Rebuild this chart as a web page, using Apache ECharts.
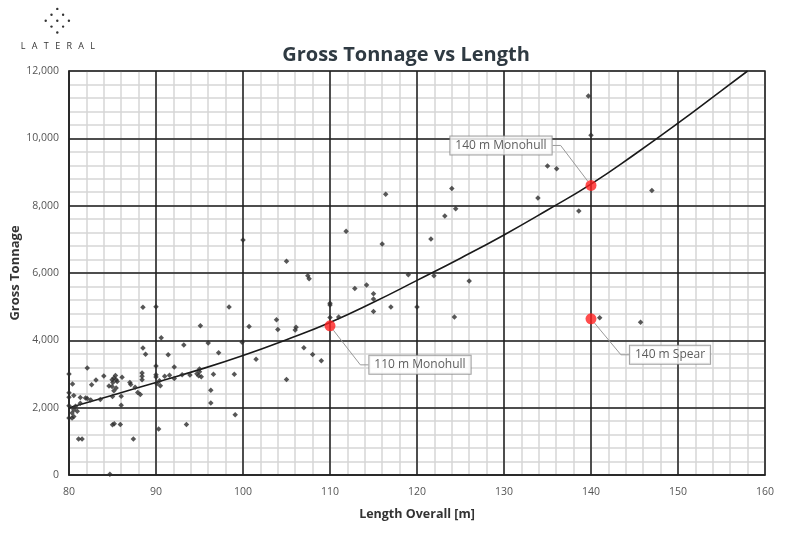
<!DOCTYPE html>
<html><head><meta charset="utf-8">
<script src="https://cdn.jsdelivr.net/npm/echarts@6/dist/echarts.min.js"></script>
<style>html,body{margin:0;padding:0;background:#fff}#c{width:800px;height:535px}</style>
</head><body><div id="c"></div>
<script>
// Fleet data: length overall [m] and gross tonnage
const fleetLength = [
  80.0,80.0,80.0,80.0,80.0,80.35,80.4,80.55,80.75,80.55,80.35,80.95,80.55,
  81.3,81.3,81.9,82.1,82.1,82.5,82.6,83.1,83.6,84.0,84.6,
  85.34,85.16,85.42,84.96,85.54,85.04,84.96,85.42,85.16,
  85.0,86.0,86.1,86.0,87.0,87.1,87.6,87.9,88.2,
  88.4,88.4,88.4,88.5,88.8,88.5,90.0,
  90.0,90.0,90.0,90.1,90.4,90.5,
  85.2,85.0,85.9,81.1,81.5,87.4,84.7,
  90.6,93.2,96.0,99.9,97.2,91.4,92.1,95.0,95.0,
  91.0,91.55,92.1,93.0,93.9,94.7,94.9,95.2,96.6,99.0,
  96.3,96.3,99.1,93.5,90.3,95.1,100.7,98.4,101.5,
  100.0,111.85,105.0,107.45,107.6,112.85,114.2,115.0,115.0,115.0,
  110.0,110.0,110.0,111.0,103.85,104.0,106.1,106.0,107.0,108.0,109.0,105.0,
  116.4,124.0,124.45,123.2,121.6,116.0,119.0,121.95,126.0,117.0,120.0,124.3,
  139.7,140.0,135.0,136.05,133.9,138.6,147.0,141.0,145.7
];
const fleetTonnage = [
  3000,2440,2310,2060,1690,1690,2700,2360,2040,1940,1840,1890,1740,
  2300,2130,2290,2270,3180,2230,2680,2820,2240,2940,2640,
  2956,2879,2829,2829,2778,2749,2630,2583,2502,
  2330,2340,2900,2070,2750,2690,2610,2450,2390,
  3030,2930,2830,3770,3590,4980,5000,
  3240,2980,2910,2710,2800,2650,
  1520,1490,1500,1070,1070,1070,20,
  4080,3860,3920,3940,3630,3570,3210,3150,3070,
  2930,2960,2870,2980,2970,3010,2950,2920,2990,2990,
  2520,2140,1790,1500,1370,4430,4410,4990,3440,
  6980,7240,6350,5920,5830,5540,5640,5380,5230,4860,
  5100,5050,4680,4690,4610,4320,4390,4310,3780,3580,3390,2840,
  8340,8510,7910,7690,7010,6860,5950,5920,5760,4990,4990,4690,
  11260,10090,9180,9100,8230,7840,8450,4670,4540
];
// Trend line
const trendLength  = [80,85,90,95,100,105,110,115,120,125,130,135,140,145,150,155,158];
const trendTonnage = [2000,2370,2750,3130,3550,4020,4530,5130,5780,6440,7130,7870,8640,9520,10450,11420,12000];
// Highlighted designs
const highlightLength  = [110,140,140];
const highlightTonnage = [4430,8600,4640];
const highlightNames   = ['110 m Monohull','140 m Monohull','140 m Spear'];
// Axis ranges
const xRange = [80,160], xStep = 10, xMinorStep = 2;
const yRange = [0,12000], yStep = 2000, yMinorStep = 400;

const FONT = 'Open Sans';
const labelOffsets = [[90,39],[-90,-40],[79,36]];

const logoDots = [];
[-1,0,1].forEach(u => [-1,0,1].forEach(v => {
  logoDots.push({type:'circle', shape:{cx:57.3+(u-v)*5.8, cy:20.7+(u+v)*5.9, r:1.2}, style:{fill:'#333'}});
}));
const logoLetters = 'LATERAL'.split('').map((ch,i) => ({
  type:'text', x:23+i*11.6, y:46, style:{text:ch, fill:'#333', font:'9px "Open Sans"', align:'center', verticalAlign:'middle'}
}));

const chart = echarts.init(document.getElementById('c'));
const minorAxisCommon = {
  type:'value', z:0, axisLine:{show:false, onZero:false}, axisTick:{show:false}, axisLabel:{show:false},
  splitLine:{show:true, lineStyle:{color:'#d6d6d6', width:1.5}}
};
chart.setOption({
  animation:false,
  backgroundColor:'#fff',
  title:{text:'Gross Tonnage vs Length', left:401, textAlign:'center', top:40,
    textStyle:{fontFamily:FONT, fontSize:20, fontWeight:'bold', color:'#2f3a42'}},
  grid:{left:69, right:35, top:71, bottom:60, show:true, borderColor:'#333', borderWidth:1.5,
    containLabel:false, outerBoundsMode:'none'},
  graphic: logoDots.concat(logoLetters),
  xAxis:[
    Object.assign({}, minorAxisCommon, {min:xRange[0], max:xRange[1], interval:xMinorStep, position:'bottom'}),
    {type:'value', z:1, min:xRange[0], max:xRange[1], interval:xStep, position:'bottom',
     axisLine:{show:true, onZero:false, lineStyle:{color:'#222', width:1.5}}, axisTick:{show:false},
     axisLabel:{color:'#555', fontSize:10.5, fontFamily:FONT, margin:12},
     splitLine:{show:true, lineStyle:{color:'#1e1e1e', width:1.5}},
     name:'Length Overall [m]', nameLocation:'middle', nameGap:33, nameMoveOverlap:false,
     nameTextStyle:{fontFamily:FONT, fontSize:12.5, fontWeight:'bold', color:'#333'}}
  ],
  yAxis:[
    Object.assign({}, minorAxisCommon, {min:yRange[0], max:yRange[1], interval:yMinorStep, position:'left'}),
    {type:'value', z:1, min:yRange[0], max:yRange[1], interval:yStep, position:'left',
     axisLine:{show:true, onZero:false, lineStyle:{color:'#222', width:1.5}}, axisTick:{show:false},
     axisLabel:{color:'#555', fontSize:10.5, fontFamily:FONT, margin:10,
       formatter: v => v.toLocaleString('en-US')},
     splitLine:{show:true, lineStyle:{color:'#1e1e1e', width:1.5}},
     name:'Gross Tonnage', nameLocation:'middle', nameGap:47, nameMoveOverlap:false,
     nameTextStyle:{fontFamily:FONT, fontSize:13, fontWeight:'bold', color:'#333'}}
  ],
  series:[
    {type:'line', xAxisIndex:1, yAxisIndex:1, z:3, smooth:true, symbol:'none', clip:true,
     lineStyle:{color:'#1a1a1a', width:1.6},
     data: trendLength.map((x,i)=>[x, trendTonnage[i]])},
    {type:'scatter', xAxisIndex:1, yAxisIndex:1, z:4, symbol:'diamond', symbolSize:5.5,
     itemStyle:{color:'#2d2d2d'},
     data: fleetLength.map((x,i)=>[x, fleetTonnage[i]])},
    {type:'scatter', xAxisIndex:1, yAxisIndex:1, z:5, symbolSize:11,
     itemStyle:{color:'#ff1f1f'},
     label:{show:true, position:'inside', formatter:p=>p.name, fontFamily:FONT, fontSize:12, color:'#333',
       backgroundColor:'#fff', borderColor:'#8a8a8a', borderWidth:1, padding:[3,5,3,5]},
     labelLine:{show:true, length2:8, lineStyle:{color:'#999', width:1}},
     labelLayout: p => ({dx:labelOffsets[p.dataIndex][0], dy:labelOffsets[p.dataIndex][1]}),
     data: highlightLength.map((x,i)=>({name:highlightNames[i], value:[x, highlightTonnage[i]]}))}
  ]
});
</script></body></html>
